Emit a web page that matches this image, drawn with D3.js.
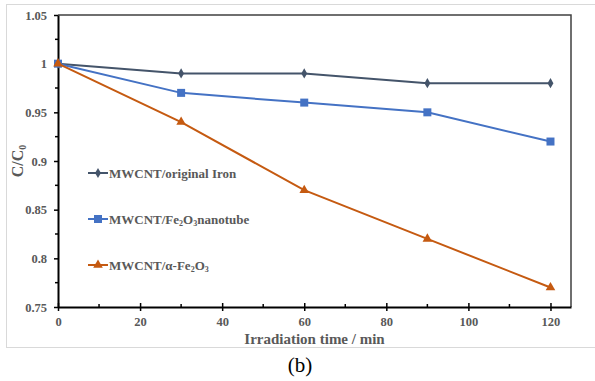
<!DOCTYPE html>
<html>
<head>
<meta charset="utf-8">
<script src="https://cdn.jsdelivr.net/npm/d3@7"></script>
<style>
  body { margin: 0; background: #fff; }
  svg { display: block; }
</style>
</head>
<body>
<div></div>
<script>
const times = [0, 30, 60, 90, 120];
const originalIron = [1, 0.99, 0.99, 0.98, 0.98];
const nanotube = [1, 0.97, 0.96, 0.95, 0.92];
const alphaFe2O3 = [1, 0.94, 0.87, 0.82, 0.77];
const xTicks = [0, 20, 40, 60, 80, 100, 120];
const yTicks = [0.75, 0.8, 0.85, 0.9, 0.95, 1, 1.05];

const W = 595, H = 381;
const plotL = 58, plotR = 571, plotT = 15, plotB = 307;
const font = '"Liberation Serif", "Times New Roman", serif';
const grey = '#595959';

const svg = d3.select('div').append('svg').attr('width', W).attr('height', H);

// outer frame
svg.append('rect')
	.attr('x', 6.5).attr('y', 4.5)
	.attr('width', 600).attr('height', 343)
	.attr('fill', 'none').attr('stroke', '#d9d9d9').attr('stroke-width', 1);

const x = d3.scaleLinear().domain([0, 125]).range([plotL, plotR]);
const y = d3.scaleLinear().domain([0.75, 1.05]).range([plotB, plotT]);

// plot box (top/right)
svg.append('path')
	.attr('d', `M${plotL},${plotT}H${plotR}V${plotB}`)
	.attr('fill', 'none').attr('stroke', '#404040').attr('stroke-width', 1.5);

// x axis
const xAxis = svg.append('g').attr('transform', `translate(0,${plotB})`);
xAxis.call(d3.axisBottom(x).tickValues(xTicks).tickSize(4).tickSizeOuter(0).tickPadding(6));
xAxis.selectAll('.tick line').attr('y1', -4).attr('stroke', '#000').attr('stroke-width', 1.5);
xAxis.selectAll('line.minor').data(d3.range(10, 125, 20)).enter().append('line')
	.attr('class', 'minor')
	.attr('x1', d => x(d)).attr('x2', d => x(d)).attr('y1', -3).attr('y2', 0)
	.attr('stroke', '#000').attr('stroke-width', 1.5);
xAxis.select('.domain').attr('stroke', '#000').attr('stroke-width', 2);
xAxis.selectAll('text').attr('font-family', font).attr('font-weight', 'bold')
	.attr('font-size', 12.5).attr('fill', grey);

// y axis
const yAxis = svg.append('g').attr('transform', `translate(${plotL},0)`);
yAxis.call(d3.axisLeft(y).tickValues(yTicks).tickFormat(d => +d.toFixed(2)).tickSize(4).tickSizeOuter(0).tickPadding(7));
yAxis.selectAll('.tick line').attr('x1', 0).attr('x2', -4).attr('stroke', '#000').attr('stroke-width', 1.5);
yAxis.selectAll('line.minor').data(d3.range(0.775, 1.05, 0.05)).enter().append('line')
	.attr('class', 'minor')
	.attr('x1', -3).attr('x2', 0).attr('y1', d => y(d)).attr('y2', d => y(d))
	.attr('stroke', '#000').attr('stroke-width', 1.5);
yAxis.select('.domain').attr('stroke', '#000').attr('stroke-width', 2);
yAxis.selectAll('text').attr('font-family', font).attr('font-weight', 'bold')
	.attr('font-size', 12.5).attr('fill', grey);

// axis titles
svg.append('text')
	.attr('x', (plotL + plotR) / 2).attr('y', 344)
	.attr('text-anchor', 'middle')
	.attr('font-family', font).attr('font-weight', 'bold').attr('font-size', 15)
	.attr('fill', grey).text('Irradiation time / min');

const yTitle = svg.append('text')
	.attr('transform', `translate(23,${(plotT + plotB) / 2}) rotate(-90)`)
	.attr('text-anchor', 'middle')
	.attr('font-family', font).attr('font-weight', 'bold').attr('font-size', 16)
	.attr('fill', grey);
yTitle.append('tspan').text('C/C');
yTitle.append('tspan').attr('font-size', 10).attr('dy', 3).text('0');

svg.append('text')
	.attr('x', 300).attr('y', 372)
	.attr('text-anchor', 'middle')
	.attr('font-family', font).attr('font-size', 21)
	.attr('fill', '#000').text('(b)');

const series = [
	{ values: originalIron, color: '#44546A', marker: d3.symbolDiamond, size: 30,
	  label: [['MWCNT/original Iron', false]] },
	{ values: nanotube, color: '#4472C4', marker: d3.symbolSquare, size: 64,
	  label: [['MWCNT/Fe', false], ['2', true], ['O', false], ['3', true], ['nanotube', false]] },
	{ values: alphaFe2O3, color: '#C55A11', marker: d3.symbolTriangle, size: 40,
	  label: [['MWCNT/α-Fe', false], ['2', true], ['O', false], ['3', true]] }
];

const line = d3.line().x(d => x(d[0])).y(d => y(d[1]));

series.forEach((s, k) => {
	const pts = times.map((t, i) => [t, s.values[i]]);
	svg.append('path').datum(pts)
		.attr('d', line)
		.attr('fill', 'none').attr('stroke', s.color).attr('stroke-width', 2);
	svg.selectAll(null).data(pts).enter().append('path')
		.attr('transform', d => `translate(${x(d[0])},${y(d[1])})`)
		.attr('d', d3.symbol().type(s.marker).size(s.size))
		.attr('fill', s.color);

	// legend
	const ly = 173 + k * 46;
	svg.append('line')
		.attr('x1', 88).attr('x2', 108).attr('y1', ly).attr('y2', ly)
		.attr('stroke', s.color).attr('stroke-width', 2);
	svg.append('path')
		.attr('transform', `translate(98,${ly})`)
		.attr('d', d3.symbol().type(s.marker).size(s.size))
		.attr('fill', s.color);
	const t = svg.append('text')
		.attr('x', 109).attr('y', ly + 4.5)
		.attr('font-family', font).attr('font-weight', 'bold').attr('font-size', 13)
		.attr('fill', grey);
	s.label.forEach(([str, sub], j) => {
		const ts = t.append('tspan').text(str);
		if (sub) ts.attr('font-size', 8).attr('dy', 2);
		else if (j > 0) ts.attr('dy', -2);
	});
});
</script>
</body>
</html>
